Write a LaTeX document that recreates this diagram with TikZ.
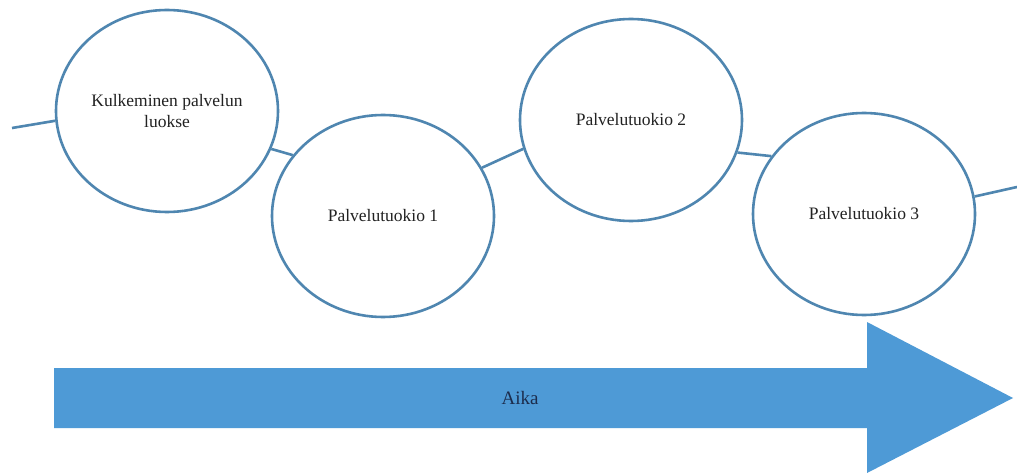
\documentclass[tikz,border=0pt]{standalone}
\usepackage{fontspec}
\setmainfont{Liberation Serif}
\usetikzlibrary{shapes.geometric}
\definecolor{ringblue}{HTML}{4F86B0}
\definecolor{arrowblue}{HTML}{4E9AD6}
\definecolor{labelink}{HTML}{222222}
\definecolor{aikaink}{HTML}{1C2C4C}
\begin{document}
\begin{tikzpicture}[x=1pt,y=-1pt,
  stage/.style={ellipse, draw=ringblue, line width=2.6pt, fill=white,
    minimum width=222pt, minimum height=202pt, inner sep=0pt, align=center,
    font=\fontsize{17.5}{21}\selectfont, text=labelink},
  link/.style={draw=ringblue, line width=2.6pt},
  timearrow/.style={fill=arrowblue, draw=none}]
\useasboundingbox (0,0) rectangle (1017,473);
\fill[white] (0,0) rectangle (1017,473);
% time arrow
\path[timearrow] (54,368) -- (867,368) -- (867,322) -- (1013,398) -- (867,473) -- (867,428) -- (54,428) -- cycle;
\node[font=\fontsize{19}{22}\selectfont, text=aikaink] (aika) at (520,398) {Aika};
% stages
\node[stage] (k) at (167,111) {Kulkeminen palvelun\\luokse};
\node[stage] (p1) at (383,216) {Palvelutuokio 1};
\node[stage] (p2) at (631,120) {Palvelutuokio 2};
\node[stage] (p3) at (864,214) {Palvelutuokio 3};
\coordinate (start) at (12,128);
\coordinate (finish) at (1017,187);
\draw[link] (start) -- (k.-175);
\draw[link] (k.-20) -- (p1.146);
\draw[link] (p1.26) -- (p2.-165);
\draw[link] (p2.-17) -- (p3.148);
\draw[link] (p3.9) -- (finish);
\end{tikzpicture}
\end{document}
